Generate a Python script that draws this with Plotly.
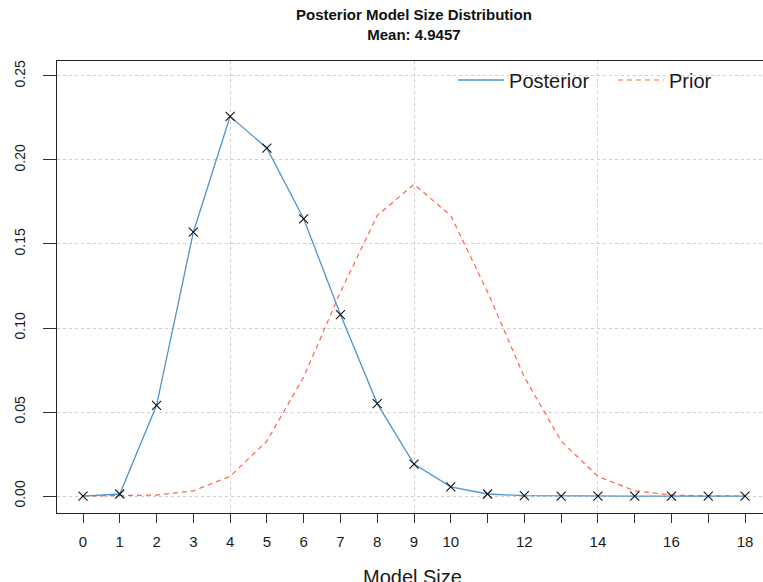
import plotly.graph_objects as go

model_size = list(range(0, 19))
posterior = [0.0, 0.0012, 0.054, 0.157, 0.226, 0.207, 0.165, 0.108, 0.055, 0.019,
             0.0055, 0.0012, 0.0002, 0.0, 0.0, 0.0, 0.0, 0.0, 0.0]
prior = [0.000004, 0.00007, 0.00058, 0.0031, 0.0117, 0.0327, 0.0708, 0.1214, 0.1669, 0.1855,
         0.1669, 0.1214, 0.0708, 0.0327, 0.0117, 0.0031, 0.00058, 0.00007, 0.000004]
x_tick_vals = list(range(0, 19))
x_tick_text = ["0", "1", "2", "3", "4", "5", "6", "7", "8", "9", "10", "", "12", "", "14", "", "16", "", "18"]
y_tick_vals = [0.0, 0.05, 0.10, 0.15, 0.20, 0.25]
y_tick_text = ["0.00", "0.05", "0.10", "0.15", "0.20", "0.25"]
x_grid = [4, 9, 14]
title_1 = "Posterior Model Size Distribution"
title_2 = "Mean: 4.9457"

FONT = "Liberation Sans, Arial, sans-serif"
BLUE = "#4F94CD"
RED = "#FF6347"
X_RANGE = [-0.707, 18.489]
Y_RANGE = [-0.0101, 0.2589]

fig = go.Figure()
fig.add_trace(go.Scatter(x=model_size, y=prior, mode="lines", name="Prior", legend="legend2",
                         line=dict(color=RED, width=1.2, dash="5px,4px"), hoverinfo="skip"))
fig.add_trace(go.Scatter(x=model_size, y=posterior, mode="lines", name="Posterior", legend="legend",
                         line=dict(color=BLUE, width=1.3), hoverinfo="skip"))
fig.add_trace(go.Scatter(x=model_size, y=posterior, mode="markers", showlegend=False,
                         marker=dict(symbol="x-thin", size=9, line=dict(color="#111", width=1.1)),
                         hoverinfo="skip"))
# invisible trace to anchor the grid-only overlay axis
fig.add_trace(go.Scatter(x=[x_grid[0]], y=[None], xaxis="x2", mode="markers",
                         showlegend=False, hoverinfo="skip"))

legend_common = dict(orientation="h", yanchor="middle", xanchor="left",
                     font=dict(size=20, family=FONT, color="#1a1a1a"),
                     bgcolor="rgba(0,0,0,0)", itemwidth=46)

fig.update_layout(
    width=763, height=582,
    margin=dict(l=57, r=0, t=61, b=69, autoexpand=False),
    paper_bgcolor="white", plot_bgcolor="white",
    font=dict(family=FONT, color="#1a1a1a"),
    showlegend=True,
    legend=dict(x=0.5610, y=0.958, **legend_common),
    legend2=dict(x=0.7875, y=0.958, **legend_common),
    xaxis=dict(range=X_RANGE, tickmode="array", tickvals=x_tick_vals, ticktext=x_tick_text,
               showgrid=False, zeroline=False, showline=True, mirror=True,
               linecolor="#222", linewidth=1.4, ticks="outside", ticklen=9, tickwidth=1.4,
               tickcolor="#333", tickfont=dict(size=15, family=FONT, color="#1a1a1a"),
               ticklabelstandoff=6),
    xaxis2=dict(range=X_RANGE, overlaying="x", tickmode="array", tickvals=x_grid,
                showticklabels=False, ticks="", showgrid=True, gridcolor="#cfcfcf",
                griddash="dot", gridwidth=1, zeroline=False, showline=False),
    yaxis=dict(range=Y_RANGE, tickmode="array", tickvals=y_tick_vals, ticktext=y_tick_text,
               showgrid=True, gridcolor="#cfcfcf", griddash="dot", gridwidth=1,
               zeroline=False, showline=True, linecolor="#222", linewidth=1.4,
               ticks="outside", ticklen=13, tickwidth=1.4, tickcolor="#333",
               tickangle=-90, tickfont=dict(size=14, family=FONT, color="#1a1a1a"),
               ticklabelstandoff=12),
    annotations=[
        dict(text="<b>" + title_1 + "<br>" + title_2 + "</b>", xref="paper", yref="paper",
             x=0.5057, y=1.08, xanchor="center", yanchor="middle", showarrow=False,
             font=dict(size=15, family=FONT, color="#111")),
        dict(text="Model Size", xref="paper", yref="paper", x=0.504, y=-0.141,
             xanchor="center", yanchor="middle", showarrow=False,
             font=dict(size=20, family=FONT, color="#1a1a1a")),
    ],
)

fig.write_html("out.html", config={"displayModeBar": False},
               post_script="document.body.style.margin='0';document.body.style.overflow='hidden';")
